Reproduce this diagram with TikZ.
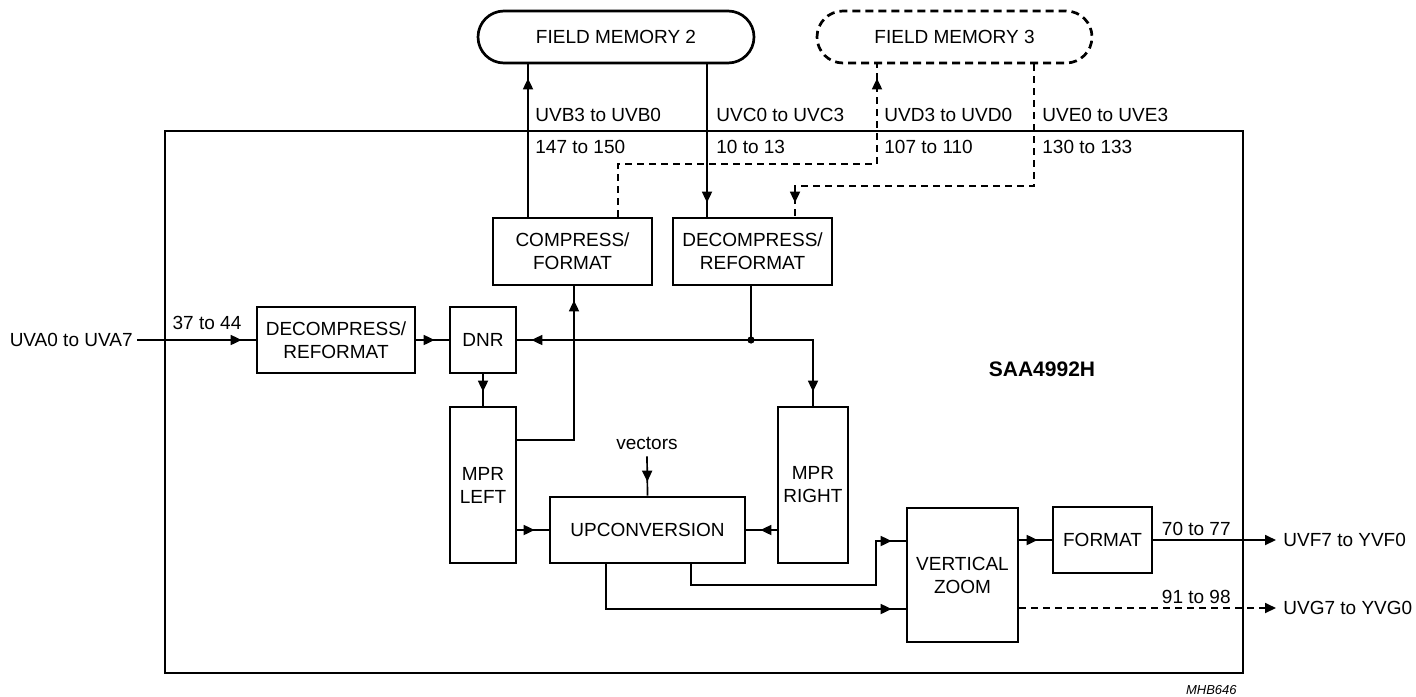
\documentclass[tikz,border=0pt]{standalone}
\usepackage{fontspec}
\setmainfont{Liberation Sans}
\usetikzlibrary{arrows.meta,shapes.misc,decorations.markings}

\tikzset{
  blk/.style={draw, line width=1.35pt, inner sep=0pt, align=center},
  mem/.style={draw, rounded rectangle, line width=1.35pt, inner sep=0pt, minimum height=26pt},
  sig/.style={line width=0.85pt, postaction={decorate}, decoration={markings, mark=at position -7pt with {\arrow{Triangle[length=5.5pt,width=5pt]}}}},
  bus/.style={sig, dash pattern=on 3.5pt off 2.5pt},
  exitline/.style={line width=0.85pt, -{Triangle[length=5.5pt,width=5pt]}},
  pinlbl/.style={inner sep=0pt},
}

\begin{document}
\begin{tikzpicture}[x=0.5pt, y=-0.5pt, font=\fontsize{9.5}{11.5}\selectfont]

    \useasboundingbox (0,0) rectangle (1416,696);

    % chip outline
    \draw[line width=1.35pt] (165,131) rectangle (1243,673);
    \node[font=\fontsize{10.5}{12}\selectfont\bfseries] (chip) at (1042,369) {SAA4992H};
    \node[pinlbl, anchor=east, font=\fontsize{6.5}{8}\selectfont\itshape] (code) at (1237,690) {MHB646};

    \begin{scope}[]
    \node[mem, minimum width=138pt] (fm2) at (616,37) {FIELD MEMORY 2};
    \node[mem, minimum width=137.5pt, dash pattern=on 4pt off 2.5pt] (fm3) at (954.5,37) {FIELD MEMORY 3};
    \end{scope}

    \begin{scope}[]
    \node[blk, minimum width=79.5pt, minimum height=33.5pt] (comp) at (572.5,251.5) {COMPRESS/\\FORMAT};
    \node[blk, minimum width=79.5pt, minimum height=33.5pt] (decT) at (752.5,251.5) {DECOMPRESS/\\REFORMAT};
    \node[blk, minimum width=79pt, minimum height=33pt] (decL) at (336,340) {DECOMPRESS/\\REFORMAT};
    \node[blk, minimum width=33pt, minimum height=33pt] (dnr) at (483,340) {DNR};
    \node[blk, minimum width=33pt, minimum height=78pt] (mprL) at (483,485) {MPR\\LEFT};
    \node[blk, minimum width=35pt, minimum height=78pt] (mprR) at (813,485) {MPR\\RIGHT};
    \node[blk, minimum width=97.5pt, minimum height=33pt] (upc) at (647.5,530) {UPCONVERSION};
    \node[blk, minimum width=55.5pt, minimum height=67pt] (vz) at (962.5,575) {VERTICAL\\ZOOM};
    \node[blk, minimum width=49.5pt, minimum height=33pt] (fmt) at (1102.5,540) {FORMAT};
    \end{scope}

    % field memory buses
    \draw[sig] (comp.north -| 528,0) -- (fm2.south -| 528,0);
    \draw[sig] (fm2.south -| 707,0) -- (decT.north -| 707,0);
    \draw[bus] (comp.north -| 618,0) |- (877,164) -- (fm3.south -| 877,0);
    \draw[bus] (fm3.south -| 1034,0) |- (795,186) -- (decT.north -| 795,0);

    \node[pinlbl, anchor=west] (lb) at (535,115) {UVB3 to UVB0};
    \node[pinlbl, anchor=west] (pb) at (535,147) {147 to 150};
    \node[pinlbl, anchor=west] (lc) at (716,115) {UVC0 to UVC3};
    \node[pinlbl, anchor=west] (pc) at (716,147) {10 to 13};
    \node[pinlbl, anchor=west] (ld) at (884,115) {UVD3 to UVD0};
    \node[pinlbl, anchor=west] (pd) at (884,147) {107 to 110};
    \node[pinlbl, anchor=west] (le) at (1042,115) {UVE0 to UVE3};
    \node[pinlbl, anchor=west] (pe) at (1042,147) {130 to 133};

    % input side
    \node[inner sep=2pt, anchor=east] (uva) at (137,340) {UVA0 to UVA7};
    \node[pinlbl] (pa) at (207,323) {37 to 44};
    \draw[sig] (uva.east) -- (decL.west);
    \draw[sig] (decL.east) -- (dnr.west);

    \coordinate (jn) at (751,340);
    \draw[line width=0.85pt] (decT.south -| jn) -- (jn);
    \fill (jn) circle (1.8pt);
    \draw[sig] (jn) -- (dnr.east);
    \draw[sig] (jn) -| (mprR.north);
    \draw[sig] (dnr.south) -- (mprL.north);
    \draw[sig] (mprL.east |- 0,440) -| (comp.south -| 574,0);

    % upconversion
    \node (vec) at (647,443) {vectors};
    \draw[sig] (vec.south) -- (upc.north);
    \draw[sig] (mprL.east |- upc.west) -- (upc.west);
    \draw[sig] (mprR.west |- upc.east) -- (upc.east);
    \draw[sig] (upc.south -| 691,0) |- (876,585) |- (vz.west |- 0,541);
    \draw[sig] (upc.south -| 606,0) |- (vz.west |- 0,609);
    \draw[sig] (vz.east |- fmt.west) -- (fmt.west);

    % outputs
    \node[inner sep=3.5pt, anchor=west] (uvf) at (1276,540) {UVF7 to YVF0};
    \node[inner sep=3.5pt, anchor=west] (uvg) at (1276,608) {UVG7 to YVG0};
    \draw[exitline] (fmt.east) -- (uvf.west);
    \draw[exitline, dash pattern=on 3.5pt off 2.5pt] (vz.east |- uvg.west) -- (uvg.west);
    \node[pinlbl, anchor=east] (pf) at (1231,529) {70 to 77};
    \node[pinlbl, anchor=east] (pg) at (1231,597) {91 to 98};

\end{tikzpicture}
\end{document}
